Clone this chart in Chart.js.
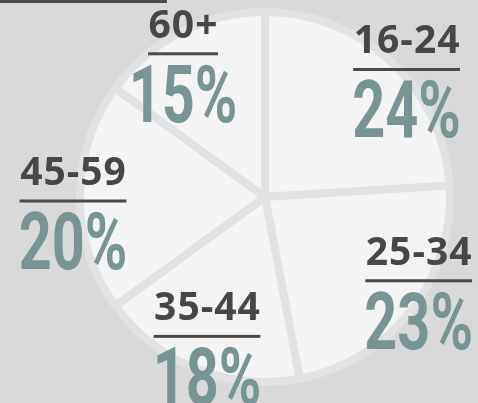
<!DOCTYPE html>
<html>
<head>
<meta charset="utf-8">
<script src="https://cdn.jsdelivr.net/npm/chart.js@4.4.0/dist/chart.umd.min.js"></script>
<style>
  html, body { margin: 0; padding: 0; background: #d9d9d9; }
  #wrap { position: relative; width: 478px; height: 403px; overflow: hidden; }
  #topRule { position: absolute; left: 0; top: 0; width: 167px; height: 3px; background: #4d4d4d; }
  canvas { display: block; }
</style>
</head>
<body>
<div id="wrap">
  <div id="topRule"></div>
  <canvas id="ageChart" width="478" height="403"></canvas>
</div>
<script>
// ===== data =====
const ageGroups = ['16-24', '25-34', '35-44', '45-59', '60+'];
const shares = [24, 23, 18, 20, 15];

// ===== label plugin: age on top, rule, big percentage below =====
const sliceLabels = {
  id: 'sliceLabels',
  afterDatasetsDraw(chart, args, opts) {
    const ctx = chart.ctx;
    const arcs = chart.getDatasetMeta(0).data;
    arcs.forEach((arc, i) => {
      const p = arc.getProps(['x', 'y', 'startAngle', 'endAngle', 'outerRadius'], true);
      const mid = (p.startAngle + p.endAngle) / 2 + opts.angleShift[i] * Math.PI / 180;
      const r = p.outerRadius * opts.radius[i];
      const cx = p.x + Math.cos(mid) * r;
      const uy = p.y + Math.sin(mid) * r;

      ctx.save();
      ctx.textAlign = 'center';
      ctx.textBaseline = 'alphabetic';
      ctx.font = '700 39px "Open Sans"';
      ctx.letterSpacing = '1px';
      ctx.fillStyle = '#474747';
      const w = ctx.measureText(ageGroups[i]).width;
      ctx.fillText(ageGroups[i], cx + 0.5, uy - 16);
      ctx.letterSpacing = '0px';
      ctx.fillStyle = '#4a4a4a';
      ctx.fillRect(cx - w / 2, uy - 1.5, w, 3);

      // condensed look for the percentage
      ctx.translate(cx, uy + 68);
      ctx.scale(0.72, 1);
      ctx.font = '700 80px Roboto';
      ctx.fillStyle = '#779595';
      ctx.fillText(shares[i] + '%', 0, 0);
      ctx.restore();
    });
  }
};

new Chart(document.getElementById('ageChart'), {
  type: 'pie',
  data: {
    labels: ageGroups,
    datasets: [{
      data: shares,
      backgroundColor: '#f4f4f4',
      borderColor: '#e2e2e2',
      borderWidth: 8,
      hoverOffset: 0
    }]
  },
  options: {
    responsive: false,
    animation: false,
    events: [],
    layout: { padding: { left: 76, right: 24, top: 8, bottom: 17 } },
    plugins: {
      legend: { display: false },
      tooltip: { enabled: false },
      sliceLabels: {
        radius: [1.03, 0.946, 0.816, 1.038, 0.892],
        angleShift: [4.8, -9.2, 1.0, -1.2, -2.8]
      }
    }
  },
  plugins: [sliceLabels]
});
</script>
</body>
</html>
